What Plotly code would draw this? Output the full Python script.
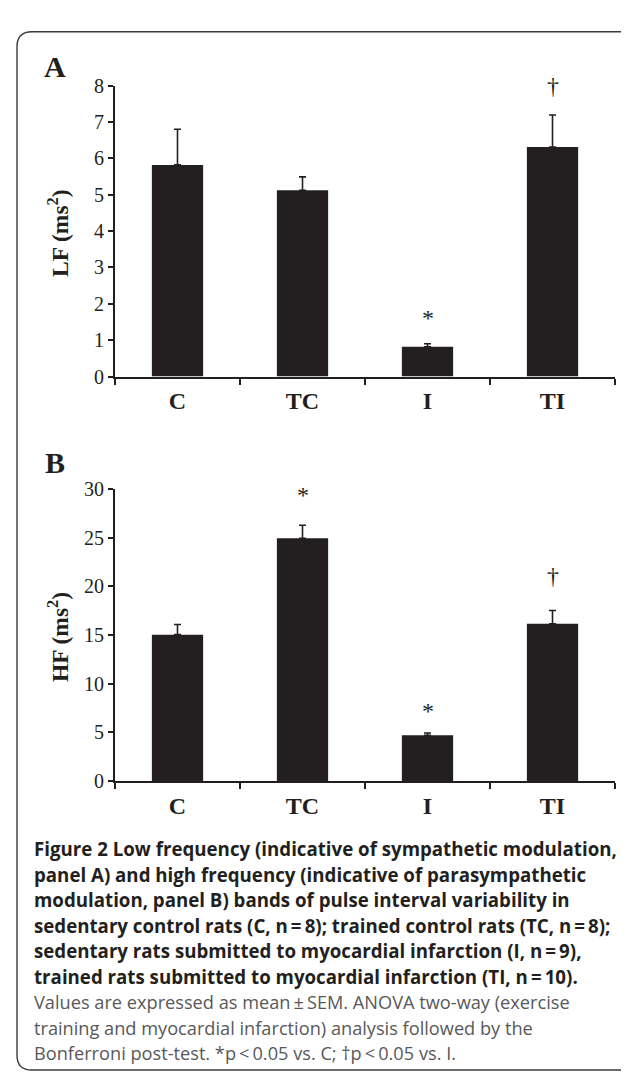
import plotly.graph_objects as go

W, H = 629, 1076

categories = ["C", "TC", "I", "TI"]

lf_mean = [5.82, 5.12, 0.82, 6.31]
lf_err_top = [6.80, 5.49, 0.90, 7.19]
hf_mean = [15.05, 24.96, 4.70, 16.16]
hf_err_top = [16.09, 26.30, 4.94, 17.53]

lf_marks = [("I", 1.72, "*"), ("TI", 7.98, "†")]
hf_marks = [("TC", 29.8, "*"), ("I", 7.66, "*"), ("TI", 21.1, "†")]

lf_ticks = [0, 1, 2, 3, 4, 5, 6, 7, 8]
hf_ticks = [0, 5, 10, 15, 20, 25, 30]

caption_bold = [
    "Figure 2 Low frequency (indicative of sympathetic modulation,",
    "panel A) and high frequency (indicative of parasympathetic",
    "modulation, panel B) bands of pulse interval variability in",
    "sedentary control rats (C, n\u2009=\u20098); trained control rats (TC, n\u2009=\u20098);",
    "sedentary rats submitted to myocardial infarction (I, n\u2009=\u20099),",
    "trained rats submitted to myocardial infarction (TI, n\u2009=\u200910).",
]
caption_regular = [
    "Values are expressed as mean\u2009±\u2009SEM. ANOVA two-way (exercise",
    "training and myocardial infarction) analysis followed by the",
    "Bonferroni post-test. *p\u2009<\u20090.05 vs. C; †p\u2009<\u20090.05 vs. I.",
]

INK = "#231f20"
GREY = "#58585a"
SERIF = "Liberation Serif"
SANS = "Open Sans"


def px(x):
    return x / W


def py(y):
    return 1 - y / H


fig = go.Figure()

panels = [
    dict(x="x", y="y", mean=lf_mean, top=lf_err_top, ytop=68, ybot=365,
         rng=[0, 8], ticks=lf_ticks, marks=lf_marks, title="LF (ms<sup>2</sup>)",
         label="A", label_y=48),
    dict(x="x2", y="y2", mean=hf_mean, top=hf_err_top, ytop=480, ybot=778,
         rng=[0, 30], ticks=hf_ticks, marks=hf_marks, title="HF (ms<sup>2</sup>)",
         label="B", label_y=453),
]

annotations = []
for i, p in enumerate(panels):
    err = [t - m for t, m in zip(p["top"], p["mean"])]
    fig.add_trace(go.Bar(
        x=categories, y=p["mean"], xaxis=p["x"], yaxis=p["y"],
        width=0.41, marker=dict(color=INK, line=dict(width=0)),
        error_y=dict(type="data", symmetric=False, array=err,
                     arrayminus=[0] * len(err), color=INK, thickness=1.6, width=3.5),
        showlegend=False,
    ))
    xa = "xaxis" if i == 0 else "xaxis2"
    ya = "yaxis" if i == 0 else "yaxis2"
    fig.layout[xa] = dict(
        domain=[px(107), px(607)], anchor=p["y"], type="category",
        range=[-0.5, 3.5], tickson="boundaries", ticks="outside", ticklen=6,
        tickwidth=1.6, tickcolor=INK, showline=True, linecolor=INK, linewidth=2,
        showgrid=False, zeroline=False,
        tickfont=dict(family=SERIF, size=24, color=INK, weight="bold"),
        ticklabelstandoff=2,
    )
    fig.layout[ya] = dict(
        domain=[py(p["ybot"]), py(p["ytop"])], anchor=p["x"], range=p["rng"],
        tickmode="array", tickvals=p["ticks"], ticks="outside", ticklen=5,
        tickwidth=1.6, tickcolor=INK, showline=True, linecolor=INK, linewidth=2,
        showgrid=False, zeroline=False,
        tickfont=dict(family=SERIF, size=20, color=INK),
    )
    for cat, yv, txt in p["marks"]:
        annotations.append(dict(
            x=cat, y=yv, xref=p["x"], yref=p["y"], text=txt, showarrow=False,
            font=dict(family=SERIF, size=24, color=INK), yanchor="middle",
            yshift=-4 if txt == "*" else 0,
        ))
    annotations.append(dict(
        x=px(50), y=py((p["ytop"] + p["ybot"]) / 2 + 2), xref="paper", yref="paper",
        text="<b>" + p["title"] + "</b>", textangle=-90, showarrow=False,
        font=dict(family=SERIF, size=23.5, color=INK),
        xanchor="center", yanchor="middle",
    ))
    annotations.append(dict(
        x=px(47), y=py(p["label_y"]), xref="paper", yref="paper",
        text="<b>" + p["label"] + "</b>", showarrow=False,
        font=dict(family=SERIF, size=30, color=INK),
        xanchor="center", yanchor="middle",
    ))

bold_y = [847, 873, 899, 925, 951, 977]
regular_y = [1004, 1030, 1056]
for line, yy in zip(caption_bold, bold_y):
    annotations.append(dict(
        x=px(24), y=py(yy), xref="paper", yref="paper",
        text=line, showarrow=False, xanchor="left", yanchor="middle",
        font=dict(family=SANS, size=18.7, color=INK, weight="bold"),
    ))
for line, yy in zip(caption_regular, regular_y):
    annotations.append(dict(
        x=px(24), y=py(yy), xref="paper", yref="paper",
        text=line, showarrow=False, xanchor="left", yanchor="middle",
        font=dict(family=SANS, size=18.2, color=GREY, weight="normal"),
    ))

# rounded frame
L, T, R, B, r = 9, 13, 631, 1073, 15
path = (
    f"M {px(L)},{py(T + r)} Q {px(L)},{py(T)} {px(L + r)},{py(T)} "
    f"L {px(R - r)},{py(T)} Q {px(R)},{py(T)} {px(R)},{py(T + r)} "
    f"L {px(R)},{py(B - r)} Q {px(R)},{py(B)} {px(R - r)},{py(B)} "
    f"L {px(L + r)},{py(B)} Q {px(L)},{py(B)} {px(L)},{py(B - r)} Z"
)

fig.update_layout(
    width=W, height=H, margin=dict(l=0, r=0, t=0, b=0),
    paper_bgcolor="white", plot_bgcolor="white",
    annotations=annotations,
    shapes=[dict(type="path", xref="paper", yref="paper", path=path,
                 line=dict(color="#3a3a3a", width=1.4), layer="below")],
)

fig.write_html("out.html")
